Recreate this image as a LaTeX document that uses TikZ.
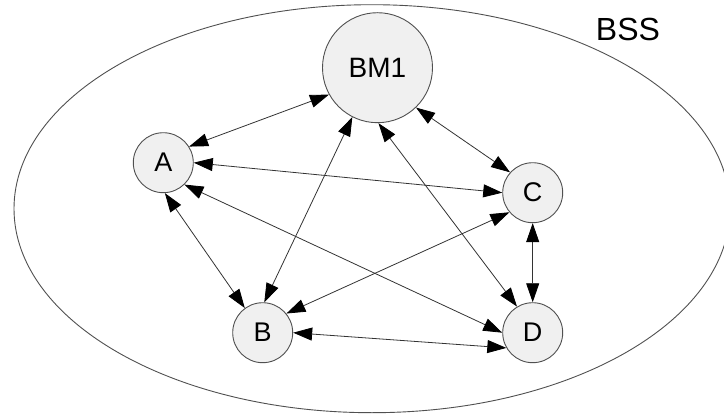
\documentclass[tikz,border=0pt]{standalone}
\usepackage{fontspec}
\setmainfont{Liberation Sans}
\usetikzlibrary{arrows.meta}
\definecolor{nodefill}{HTML}{F0F0F0}
\definecolor{nodeline}{HTML}{505050}
\definecolor{edgeline}{HTML}{333333}
\tikzset{
  station/.style={circle, draw=nodeline, fill=nodefill, line width=0.9pt, inner sep=0pt, minimum size=60pt, font=\fontsize{27}{29}\selectfont},
  bigstation/.style={station, minimum size=110pt, font=\fontsize{28}{30}\selectfont},
  link/.style={draw=edgeline, line width=0.8pt, {Triangle[length=19pt,width=13pt,color=black]}-{Triangle[length=19pt,width=13pt,color=black]}}
}
\begin{document}
\begin{tikzpicture}[x=1pt,y=-1pt]
\useasboundingbox (0,0) rectangle (724,415);
\draw[draw=nodeline, line width=0.9pt] (372,208.7) ellipse [x radius=358, y radius=204];
\node[font=\fontsize{32}{34}\selectfont] (bss) at (628,29) {BSS};
\node[bigstation] (BM1) at (377.5,67.7) {BM1};
\node[station] (A) at (163.3,162.7) {A};
\node[station] (C) at (532.7,192.7) {C};
\node[station] (B) at (262.7,332.7) {B};
\node[station] (D) at (532.7,332.7) {D};
\draw[link] (A.32) -- (BM1.209);
\draw[link] (BM1.314) -- (C.138);
\draw[link] (A.east) -- (C.west);
\draw[link] (A.273) -- (B.126);
\draw[link] (A.314) -- (D.west);
\draw[link] (BM1.243) -- (B.87);
\draw[link] (BM1.271) -- (D.121);
\draw[link] (C.220) -- (B.39);
\draw[link] (C.south) -- (D.north);
\draw[link] (B.east) -- (D.210);
\end{tikzpicture}
\end{document}
